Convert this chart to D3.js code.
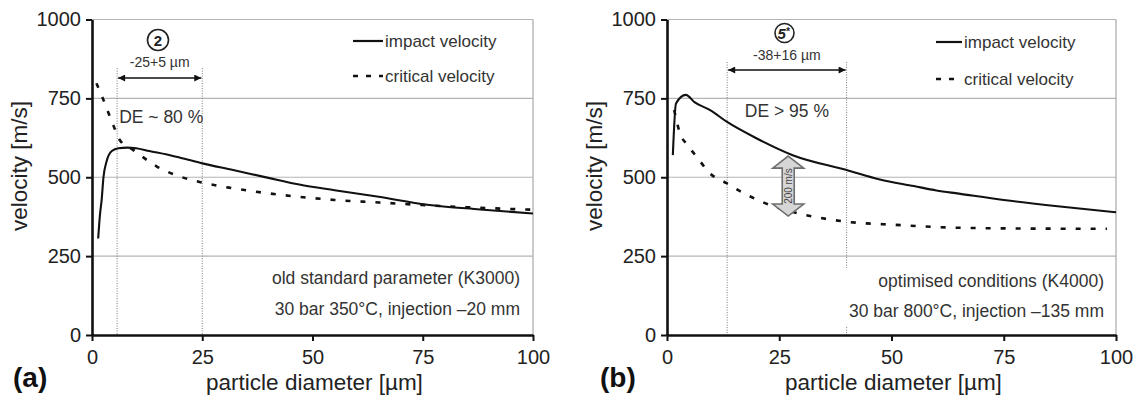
<!DOCTYPE html>
<html><head><meta charset="utf-8">
<script src="https://cdn.jsdelivr.net/npm/d3@7"></script>
<style>
body{margin:0;background:#fff;}
svg{display:block;font-family:"Liberation Sans",Arial,sans-serif;}
</style></head><body>
<svg id="c" width="1140" height="400"></svg>
<script>
// ---- data ----
const xTicks = [0, 25, 50, 75, 100];
const yTicks = [0, 250, 500, 750, 1000];

const impactA_d = [1.4, 1.8, 2.2, 2.6, 3.3, 4.5, 6, 8, 10, 13, 17, 20, 25, 32, 40, 47, 55, 65, 76, 88, 100];
const impactA_v = [306, 380, 430, 500, 550, 583, 592, 594, 592, 583, 572, 562, 544, 523, 498, 477, 459, 438, 413, 398, 385];
const criticalA_d = [1, 2.6, 4.8, 6.3, 9.4, 14.7, 20, 25, 32, 40, 47, 55, 65, 75, 85, 100];
const criticalA_v = [798, 745, 666, 618, 586, 534, 502, 483, 465, 449, 438, 428, 420, 412, 405, 397];

const impactB_d = [1.3, 2.0, 4.2, 6.2, 9.6, 13.3, 20, 28, 40, 47.4, 55, 60, 65, 75, 87, 100];
const impactB_v = [570, 734, 761, 737, 713, 676, 623, 570, 523, 493, 472, 458, 448, 428, 408, 389];
const criticalB_d = [1.6, 2.9, 4.5, 6.6, 9.6, 13.3, 17, 21, 26, 31, 40, 51, 62, 75, 88, 98];
const criticalB_v = [713, 639, 603, 565, 512, 481, 450, 423, 398, 380, 359, 349, 341, 338, 337, 337];

const seriesNames = ["impact velocity", "critical velocity"];
const panelLetters = ["(a)", "(b)"];
const circleLabels = ["2", "5"];
const rangeLabels = ["-25+5 µm", "-38+16 µm"];
const rangeLimits = [[5.7, 25], [13.4, 40]];
const deLabels = ["DE ~ 80 %", "DE > 95 %"];
const condLabels = [["old standard parameter (K3000)", "30 bar 350°C, injection \u201320 mm"],
                    ["optimised conditions (K4000)", "30 bar 800°C, injection \u2013135 mm"]];
const gapArrow = {d: 27, top: 567, bottom: 377, label: "200 m/s"};

const xLabel = "particle diameter [µm]";
const yLabel = "velocity [m/s]";

// ---- drawing ----
const svg = d3.select("#c");
const zip = (a, b) => a.map((d, i) => [d, b[i]]);

const panels = [
  {x0: 92, x1: 533, impact: zip(impactA_d, impactA_v), critical: zip(criticalA_d, criticalA_v)},
  {x0: 667, x1: 1116, impact: zip(impactB_d, impactB_v), critical: zip(criticalB_d, criticalB_v)}
];

const y = d3.scaleLinear().domain([0, 1000]).range([335, 19.5]);

svg.append("defs").html(
  '<marker id="ah" viewBox="0 0 10 10" refX="10" refY="5" markerWidth="9" markerHeight="7" markerUnits="userSpaceOnUse" orient="auto-start-reverse"><path d="M0,0L10,5L0,10z" fill="#111"/></marker>'
);

panels.forEach((p, i) => {
  const g = svg.append("g");
  const x = d3.scaleLinear().domain([0, 100]).range([p.x0, p.x1]);

  // grid + frame
  g.selectAll(".grid").data(yTicks.slice(1)).join("line")
    .attr("x1", x(0)).attr("x2", x(100))
    .attr("y1", d => y(d)).attr("y2", d => y(d))
    .attr("stroke", "#b4b4b4").attr("stroke-width", 1.2);
  g.append("line").attr("x1", x(100)).attr("x2", x(100)).attr("y1", y(0)).attr("y2", y(1000))
    .attr("stroke", "#a8a8a8").attr("stroke-width", 1.2);

  // range markers (dotted verticals)
  rangeLimits[i].forEach(d => {
    g.append("line").attr("x1", x(d)).attr("x2", x(d))
      .attr("y1", y(i === 0 ? 846 : 865)).attr("y2", y(0))
      .attr("stroke", "#777").attr("stroke-width", 1).attr("stroke-dasharray", "1,1.5");
  });

  // conditions text box (white background)
  const right = i === 0 ? 520 : 1104;
  g.append("rect").attr("x", right - 268).attr("y", y(213)).attr("width", 274).attr("height", 58)
    .attr("fill", "#fff");
  g.append("text").attr("x", right).attr("y", i === 0 ? 284 : 287).attr("text-anchor", "end")
    .attr("font-size", 17.5).attr("fill", "#333").text(condLabels[i][0]);
  g.append("text").attr("x", right).attr("y", i === 0 ? 315 : 317).attr("text-anchor", "end")
    .attr("font-size", 17.5).attr("fill", "#333").text(condLabels[i][1]);

  // curves
  const line = d3.line().x(d => x(d[0])).y(d => y(d[1])).curve(d3.curveMonotoneX);
  g.append("path").attr("d", line(p.critical)).attr("fill", "none")
    .attr("stroke", "#111").attr("stroke-width", 2.6).attr("stroke-dasharray", "5,10");
  g.append("path").attr("d", line(p.impact)).attr("fill", "none")
    .attr("stroke", "#111").attr("stroke-width", 2.1);

  // axes
  const ya = g.append("g").attr("transform", `translate(${x(0)},0)`)
    .call(d3.axisLeft(y).tickValues(yTicks).tickFormat(d3.format("d")).tickSize(6).tickSizeOuter(0).tickPadding(5));
  const xa = g.append("g").attr("transform", `translate(0,${y(0)})`)
    .call(d3.axisBottom(x).tickValues(xTicks).tickFormat(d3.format("d")).tickSize(6).tickSizeOuter(0).tickPadding(9));
  [ya, xa].forEach(a => {
    a.select(".domain").attr("stroke", "#111").attr("stroke-width", 2.6);
    a.selectAll(".tick line").attr("stroke", "#111").attr("stroke-width", 2);
    a.selectAll(".tick text").attr("font-size", 20).attr("fill", "#222")
      .attr("font-family", '"Liberation Sans",Arial,sans-serif');
  });

  // axis titles
  g.append("text").attr("transform", `translate(${x(0) - 65},166) rotate(-90)`)
    .attr("text-anchor", "middle").attr("font-size", 22.5).attr("fill", "#222").text(yLabel);
  g.append("text").attr("x", (x(0) + x(100)) / 2 + 2).attr("y", 390)
    .attr("text-anchor", "middle").attr("font-size", 22.5).attr("fill", "#222").text(xLabel);
  g.append("text").attr("x", x(0) - (i === 0 ? 79 : 67)).attr("y", 387)
    .attr("font-size", 28).attr("font-weight", "bold").attr("fill", "#111").text(panelLetters[i]);

  // legend
  const lx0 = i === 0 ? 353 : 936, lx1 = i === 0 ? 383 : 962;
  const ly = i === 0 ? [41, 76] : [42, 79];
  g.append("line").attr("x1", lx0).attr("x2", lx1).attr("y1", ly[0]).attr("y2", ly[0])
    .attr("stroke", "#111").attr("stroke-width", 2.2);
  g.append("line").attr("x1", lx0).attr("x2", lx1).attr("y1", ly[1]).attr("y2", ly[1])
    .attr("stroke", "#111").attr("stroke-width", 2.4).attr("stroke-dasharray", "5,8");
  seriesNames.forEach((s, k) => {
    g.append("text").attr("x", lx1 + 2).attr("y", ly[k] + 6).attr("font-size", 17)
      .attr("fill", "#333").text(s);
  });

  // range annotation
  const [r0, r1] = rangeLimits[i];
  const cx = (x(r0) + x(r1)) / 2;
  const arrowY = i === 0 ? 78 : 70;
  g.append("line").attr("x1", x(r0) + 1).attr("x2", x(r1) - 1).attr("y1", arrowY).attr("y2", arrowY)
    .attr("stroke", "#111").attr("stroke-width", 1.6)
    .attr("marker-start", "url(#ah)").attr("marker-end", "url(#ah)");
  g.append("text").attr("x", cx).attr("y", i === 0 ? 67 : 60).attr("text-anchor", "middle")
    .attr("font-size", 14).attr("fill", "#333").text(rangeLabels[i]);
  const ccx = i === 0 ? 158 : 784.5, ccy = i === 0 ? 40 : 33;
  g.append("circle").attr("cx", ccx).attr("cy", ccy).attr("r", i === 0 ? 10.5 : 9.5)
    .attr("fill", "#fff").attr("stroke", "#222").attr("stroke-width", 1.6);
  const ct = g.append("text").attr("x", ccx).attr("y", ccy + 5.5).attr("text-anchor", "middle")
    .attr("font-size", 15).attr("font-weight", "bold").attr("fill", "#222");
  if (i === 0) ct.text(circleLabels[i]);
  else {
    ct.attr("font-style", "italic").attr("x", ccx - 1);
    ct.append("tspan").text(circleLabels[i]);
    ct.append("tspan").attr("font-size", 10).attr("dy", -4).text("*");
  }
  // DE text
  if (i === 0) {
    g.append("text").attr("x", x(r0) + 2).attr("y", 123).attr("font-size", 17.5)
      .attr("fill", "#333").text(deLabels[i]);
  } else {
    g.append("text").attr("x", cx).attr("y", 117).attr("text-anchor", "middle").attr("font-size", 17.5)
      .attr("fill", "#333").text(deLabels[i]);
  }

  // 200 m/s block arrow (panel b)
  if (i === 1) {
    const ax = x(gapArrow.d), t = y(gapArrow.top), b = y(gapArrow.bottom);
    const hw = 15.5, sw = 6, hl = 12;
    const pts = [[ax, t], [ax + hw, t + hl], [ax + sw, t + hl], [ax + sw, b - hl], [ax + hw, b - hl],
                 [ax, b], [ax - hw, b - hl], [ax - sw, b - hl], [ax - sw, t + hl], [ax - hw, t + hl]];
    g.append("path").attr("d", "M" + pts.join("L") + "Z")
      .attr("fill", "#d6d6d6").attr("stroke", "#6e6e6e").attr("stroke-width", 1.6);
    g.append("text").attr("transform", `translate(${ax + 3.5},${(t + b) / 2}) rotate(-90)`)
      .attr("text-anchor", "middle").attr("font-size", 10).attr("fill", "#444").text(gapArrow.label);
  }
});
</script>
</body></html>
